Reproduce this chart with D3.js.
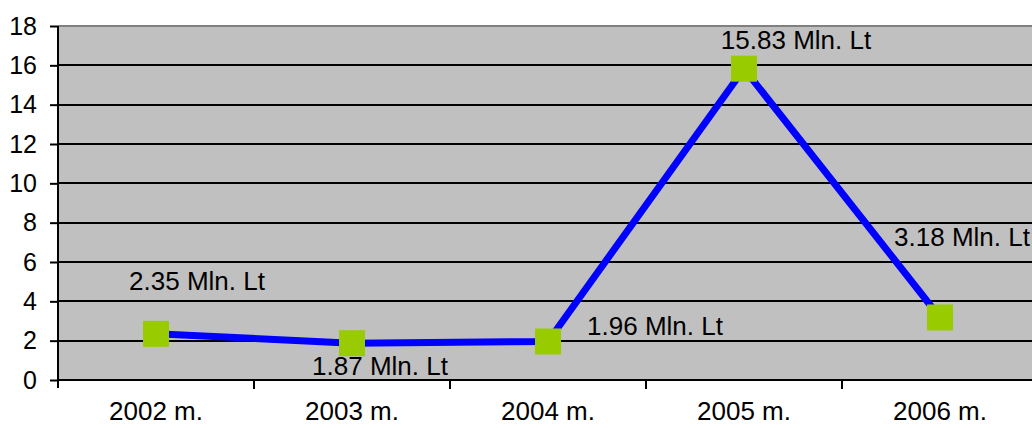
<!DOCTYPE html>
<html><head><meta charset="utf-8">
<script src="https://cdn.jsdelivr.net/npm/d3@7"></script>
<style>body{margin:0;background:#fff;} svg{display:block;}</style>
</head><body>
<svg id="c" width="1032" height="428"></svg>
<script>
const categories = ["2002 m.", "2003 m.", "2004 m.", "2005 m.", "2006 m."];
const values = [2.35, 1.87, 1.96, 15.83, 3.18];
const labels = ["2.35 Mln. Lt", "1.87 Mln. Lt", "1.96 Mln. Lt", "15.83 Mln. Lt", "3.18 Mln. Lt"];
const yTicks = [0, 2, 4, 6, 8, 10, 12, 14, 16, 18];
// label offsets (pixels) relative to each point
const labelOffsets = [[41, -53], [28, 23], [107, -15], [52, -29], [22, -80]];

const svg = d3.select("#c");
const L = 58, T = 26, B = 380, R = 58 + 5 * 196;
const font = "Arial, 'Liberation Sans', sans-serif";

const x = d3.scaleBand().domain(categories).range([L, R]);
const y = d3.scaleLinear().domain([0, 18]).range([B, T]);

svg.append("rect").attr("x", L).attr("y", T).attr("width", R - L).attr("height", B - T).attr("fill", "#C0C0C0");
svg.append("line").attr("x1", L).attr("x2", R).attr("y1", T).attr("y2", T).attr("stroke", "#808080").attr("stroke-width", 2);

svg.selectAll(".grid").data(yTicks.filter(d => d > 0 && d < 18)).enter().append("line")
  .attr("x1", L).attr("x2", R).attr("y1", d => Math.round(y(d))).attr("y2", d => Math.round(y(d)))
  .attr("stroke", "#000").attr("stroke-width", 2);

const yAxis = svg.append("g").attr("transform", `translate(${L},0)`)
  .call(d3.axisLeft(y).tickValues(yTicks).tickSize(8).tickPadding(13));
yAxis.select(".domain").attr("stroke-width", 2).attr("d", `M0,${T}V${B + 8}`);
yAxis.selectAll(".tick line").attr("stroke-width", 2);
yAxis.selectAll("text").attr("font-size", 25).attr("font-family", font).attr("fill", "#000");

const xAxis = svg.append("g").attr("transform", `translate(0,${B})`)
  .call(d3.axisBottom(x).tickSize(0).tickPadding(22));
xAxis.select(".domain").attr("stroke-width", 2).attr("d", `M${L},0H${R}`);
xAxis.selectAll("text").attr("font-size", 26).attr("font-family", font).attr("fill", "#000");
// category boundary ticks
svg.selectAll(".xt").data(categories.slice(1)).enter().append("line")
  .attr("x1", d => x(d)).attr("x2", d => x(d)).attr("y1", B).attr("y2", B + 9)
  .attr("stroke", "#000").attr("stroke-width", 2);

const pts = categories.map((c, i) => [x(c) + x.bandwidth() / 2, y(values[i])]);
svg.append("path").attr("d", d3.line()(pts)).attr("fill", "none")
  .attr("stroke", "#0000FF").attr("stroke-width", 7).attr("stroke-linejoin", "round");

svg.selectAll(".m").data(pts).enter().append("rect")
  .attr("x", d => d[0] - 13).attr("y", d => d[1] - 13).attr("width", 26).attr("height", 26)
  .attr("fill", "#99CC00");

svg.selectAll(".lbl").data(pts).enter().append("text")
  .attr("x", (d, i) => d[0] + labelOffsets[i][0]).attr("y", (d, i) => d[1] + labelOffsets[i][1])
  .attr("text-anchor", "middle").attr("dominant-baseline", "central")
  .attr("font-size", 26).attr("font-family", font).attr("fill", "#000")
  .text((d, i) => labels[i]);
</script>
</body></html>
